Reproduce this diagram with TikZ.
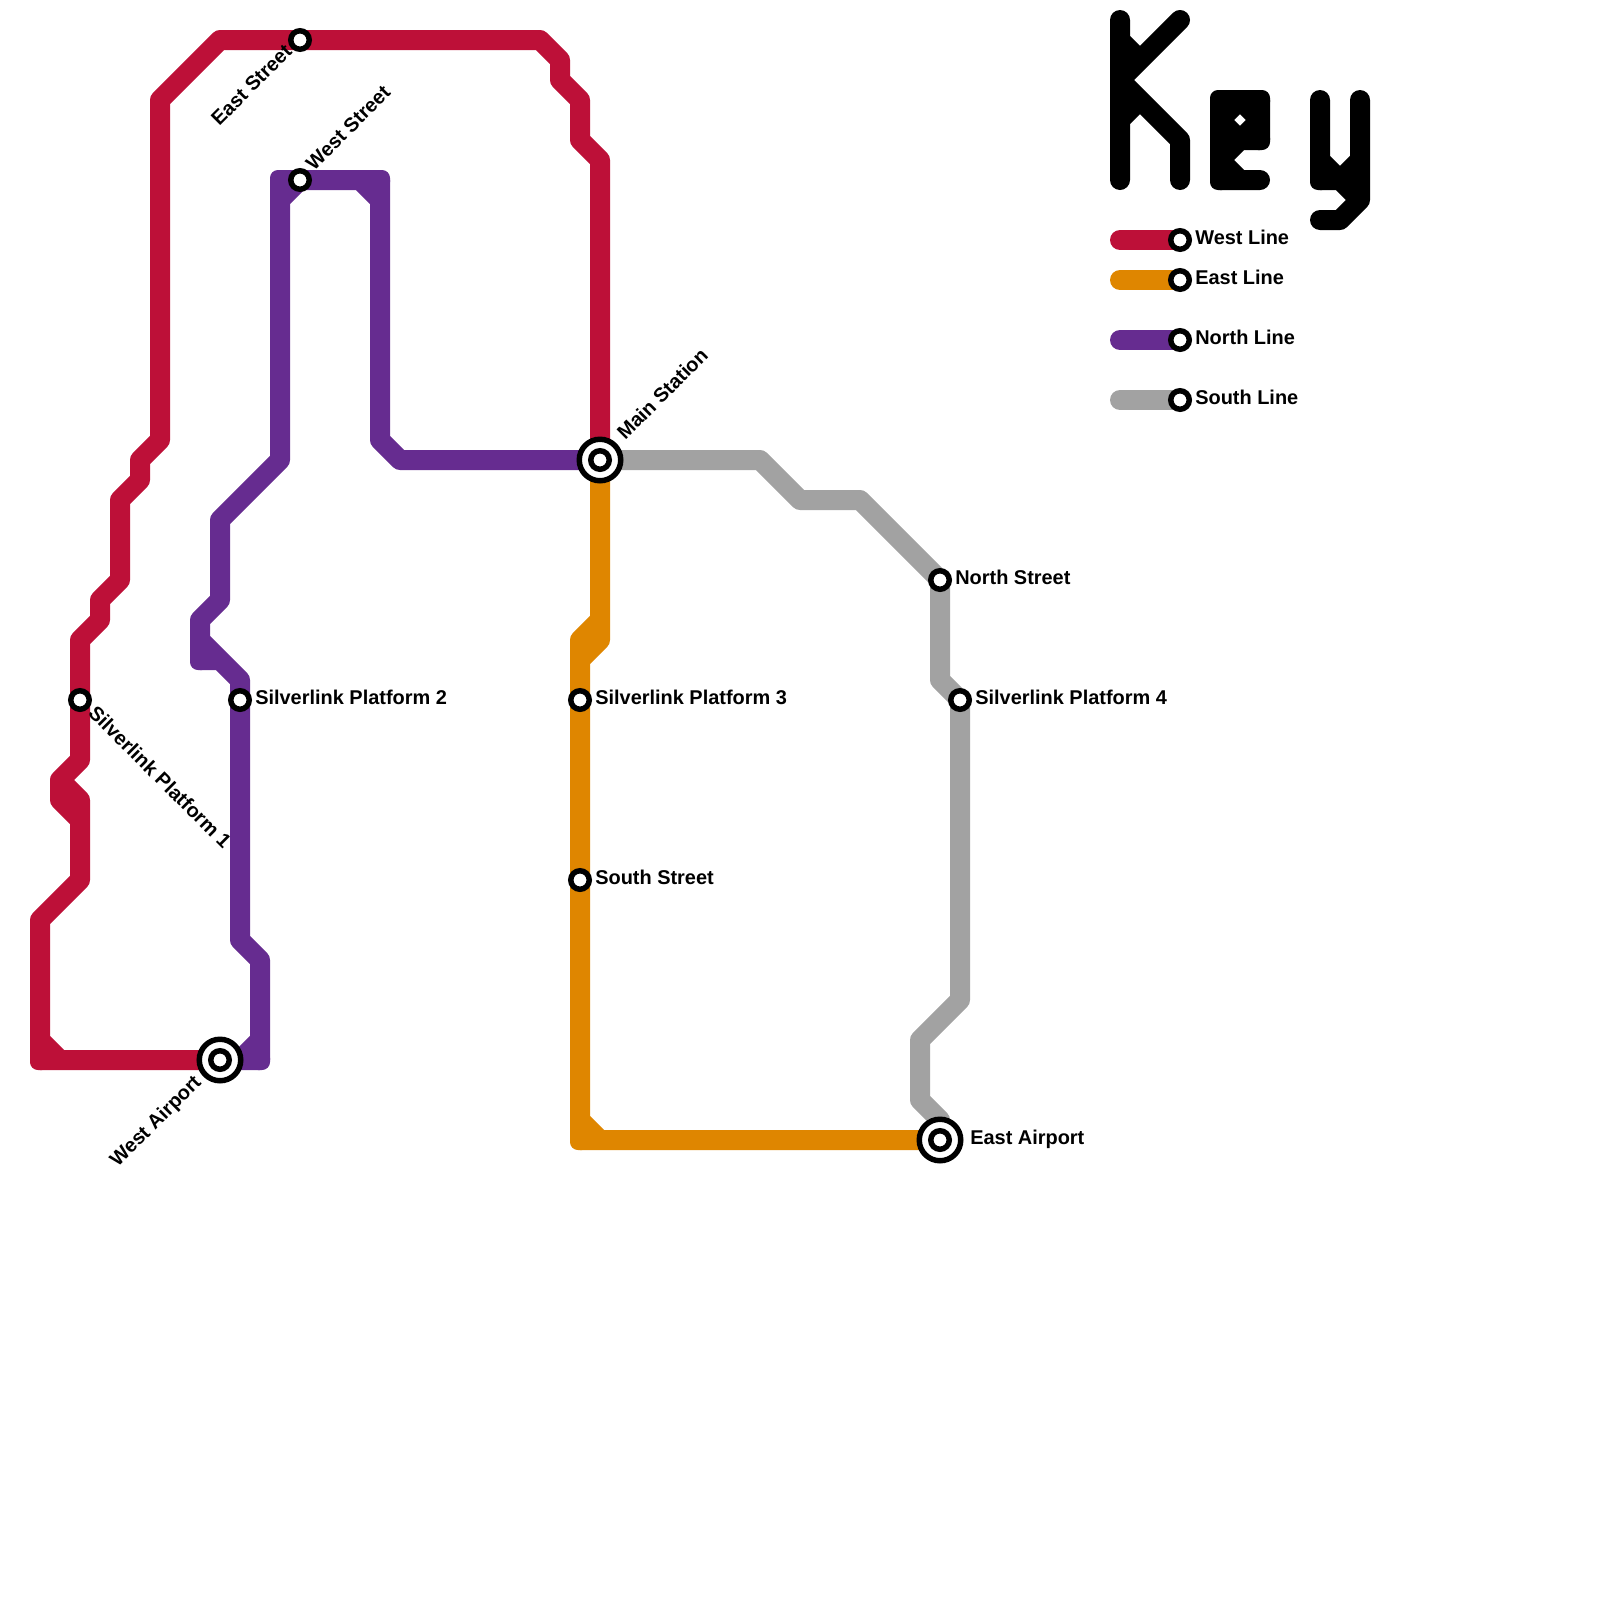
\documentclass[tikz,border=0pt]{standalone}
\usepackage{fontspec}
\setmainfont{Liberation Sans}
\usetikzlibrary{backgrounds}
\definecolor{westred}{HTML}{BD1038}
\definecolor{eastorange}{HTML}{DF8600}
\definecolor{northpurple}{HTML}{662C90}
\definecolor{southgrey}{HTML}{A2A2A2}

\begin{document}
\begin{tikzpicture}[
  metroline/.style={line width=0.5cm, line join=round, line cap=round},
  westline/.style={metroline, westred},
  eastline/.style={metroline, eastorange},
  northline/.style={metroline, northpurple},
  southline/.style={metroline, southgrey},
  keyline/.style={metroline, black},
  tile/.style={rounded corners=0.2cm},
  stop/.style={draw, circle, fill=white, line width=3.9pt, minimum size=0.4625cm, inner sep=0pt},
  terminal/.style={stop, minimum size=1.0375cm},
  stationlabel/.style={anchor=base west, inner sep=0pt, font=\bfseries\fontsize{14.18}{17}\selectfont},
  leftlabel/.style={stationlabel, anchor=base east}
]
\useasboundingbox (0,0) rectangle (40,-40);

\node[terminal] (westairport) at (5.5,-26.5) {};
\node[stop] (westairportinner) at (5.5,-26.5) {};
\node[terminal] (mainstation) at (15,-11.5) {};
\node[stop] (mainstationinner) at (15,-11.5) {};
\node[terminal] (eastairport) at (23.5,-28.5) {};
\node[stop] (eastairportinner) at (23.5,-28.5) {};
\node[stop] (eaststreet) at (7.5,-1) {};
\node[stop] (weststreet) at (7.5,-4.5) {};
\node[stop] (platform1) at (2,-17.5) {};
\node[stop] (platform2) at (6,-17.5) {};
\node[stop] (platform3) at (14.5,-17.5) {};
\node[stop] (platform4) at (24,-17.5) {};
\node[stop] (northstreet) at (23.5,-14.5) {};
\node[stop] (southstreet) at (14.5,-22) {};

\node[stop] (keywest) at (29.5,-6) {};
\node[stop] (keyeast) at (29.5,-7) {};
\node[stop] (keynorth) at (29.5,-8.5) {};
\node[stop] (keysouth) at (29.5,-10) {};
\coordinate (keywestend) at (28,-6);
\coordinate (keyeastend) at (28,-7);
\coordinate (keynorthend) at (28,-8.5);
\coordinate (keysouthend) at (28,-10);

\begin{scope}[on background layer]
\draw[westline] (westairport.center) -- (1,-26.5) -- (1,-23) -- (2,-22) -- (2,-20) -- (1.5,-19.5) -- (1.5,-20) -- (2,-20.5)
  (1.5,-19.5) -- (2,-19) -- (platform1.center) -- (2,-16) -- (2.5,-15.5) -- (2.5,-15) -- (3,-14.5) -- (3,-12.5) -- (3.5,-12) -- (3.5,-11.5) -- (4,-11) -- (4,-2.5) -- (5.5,-1) -- (eaststreet.center) -- (13.5,-1) -- (14,-1.5) -- (14,-2) -- (14.5,-2.5) -- (14.5,-3.5) -- (15,-4) -- (mainstation.center)
  (1,-26) -- (1.5,-26.5);
\draw[northline] (westairport.center) -- (6.5,-26.5) -- (6.5,-24) -- (6,-23.5) -- (platform2.center) -- (6,-17) -- (5.5,-16.5) -- (5,-16.5) -- (5,-15.5) -- (5.5,-15) -- (5.5,-13) -- (7,-11.5) -- (7,-4.5) -- (weststreet.center) -- (9.5,-4.5) -- (9.5,-11) -- (10,-11.5) -- (mainstation.center)
  (6,-26.5) -- (6.5,-26)
  (5,-16) -- (6,-17)
  (7,-5) -- (7.5,-4.5)
  (9,-4.5) -- (9.5,-5);
\draw[eastline] (mainstation.center) -- (15,-16) -- (14.5,-16.5) -- (platform3.center) -- (southstreet.center) -- (14.5,-28.5) -- (eastairport.center)
  (15,-15.5) -- (14.5,-16) -- (14.5,-16.5)
  (14.5,-28) -- (15,-28.5);
\draw[southline] (mainstation.center) -- (19,-11.5) -- (20,-12.5) -- (21.5,-12.5) -- (northstreet.center) -- (23.5,-17) -- (platform4.center) -- (24,-25) -- (23,-26) -- (23,-27.5) -- (23.5,-28) -- (eastairport.center);

\foreach \x/\y in {1/-26.5} \fill[tile, westred] (\x-0.25,\y-0.25) rectangle (\x+0.25,\y+0.25);
\foreach \x/\y in {6.5/-26.5, 5/-16.5, 7/-4.5, 9.5/-4.5} \fill[tile, northpurple] (\x-0.25,\y-0.25) rectangle (\x+0.25,\y+0.25);
\foreach \x/\y in {14.5/-28.5} \fill[tile, eastorange] (\x-0.25,\y-0.25) rectangle (\x+0.25,\y+0.25);
\foreach \x/\y in {30.5/-2.5, 31.5/-2.5, 31.5/-3.5, 30.5/-4.5, 33/-4.5} \fill[tile, black] (\x-0.25,\y-0.25) rectangle (\x+0.25,\y+0.25);

\draw[westline] (keywest.center) -- (keywestend);
\draw[eastline] (keyeast.center) -- (keyeastend);
\draw[northline] (keynorth.center) -- (keynorthend);
\draw[southline] (keysouth.center) -- (keysouthend);

\draw[keyline] (28,-0.5) -- (28,-4.5)
  (29.5,-0.5) -- (28,-2) -- (29.5,-3.5) -- (29.5,-4.5)
  (28,-1) -- (28.5,-1.5)
  (28,-3) -- (28.5,-2.5);
\draw[keyline] (30.5,-4.5) -- (30.5,-2.5) -- (31.5,-2.5) -- (31.5,-3.5) -- (30.5,-3.5)
  (31,-2.5) -- (31.5,-3) -- (31,-3.5) -- (30.5,-3) -- cycle
  (31,-3.5) -- (30.5,-4) -- (31,-4.5)
  (30.5,-4.5) -- (31.5,-4.5);
\draw[keyline] (33,-2.5) -- (33,-4.5) -- (33.5,-4.5) -- (34,-5)
  (34,-2.5) -- (34,-5) -- (33.5,-5.5) -- (33,-5.5)
  (33,-4) -- (33.5,-4.5) -- (34,-4);
\end{scope}

\node[leftlabel, rotate=45] (eaststreetlabel) at (7.33,-1.32) {East Street};
\node[stationlabel, rotate=45] (weststreetlabel) at (7.85,-4.29) {West Street};
\node[stationlabel, rotate=45] (mainstationlabel) at (15.63,-11.02) {Main Station};
\node[stationlabel, rotate=-45] (platform1label) at (2.18,-17.85) {Silverlink Platform 1};
\node[stationlabel] (platform2label) at (6.375,-17.62) {Silverlink Platform 2};
\node[stationlabel] (platform3label) at (14.875,-17.62) {Silverlink Platform 3};
\node[stationlabel] (platform4label) at (24.375,-17.62) {Silverlink Platform 4};
\node[stationlabel] (northstreetlabel) at (23.875,-14.62) {North Street};
\node[stationlabel] (southstreetlabel) at (14.875,-22.12) {South Street};
\node[stationlabel] (eastairportlabel) at (24.25,-28.62) {East Airport};
\node[leftlabel, rotate=45] (westairportlabel) at (5.06,-27.08) {West Airport};
\node[stationlabel] (keywestlabel) at (29.875,-6.12) {West Line};
\node[stationlabel] (keyeastlabel) at (29.875,-7.12) {East Line};
\node[stationlabel] (keynorthlabel) at (29.875,-8.62) {North Line};
\node[stationlabel] (keysouthlabel) at (29.875,-10.12) {South Line};
\end{tikzpicture}
\end{document}
